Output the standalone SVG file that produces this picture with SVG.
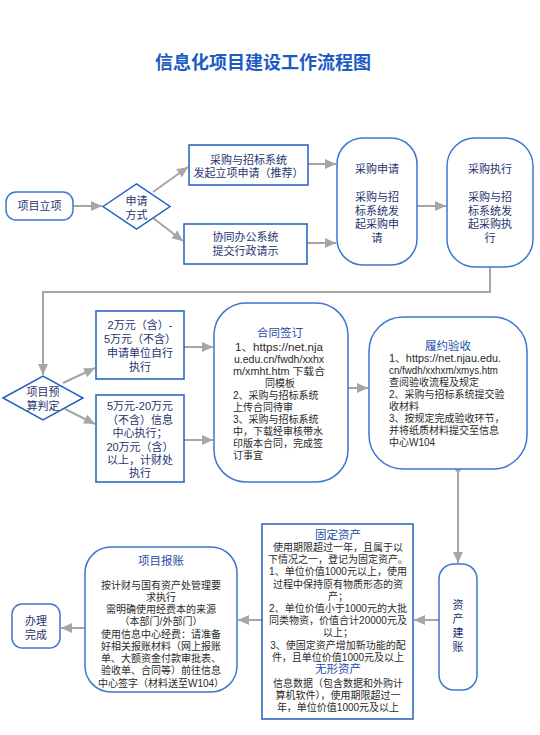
<svg xmlns="http://www.w3.org/2000/svg" width="540" height="735" viewBox="0 0 540 735">
<defs>
<marker id="ah" markerUnits="userSpaceOnUse" markerWidth="12" markerHeight="10" refX="11" refY="5" orient="auto">
<path d="M0,0 L11,5 L0,10 Z" fill="#a6a6a6"/>
</marker>
<style>
.bg{fill:#ffffff}
.rr{fill:#ffffff;stroke:#3d77cf;stroke-width:1.5}
.rc{fill:#ffffff;stroke:#2260bf;stroke-width:1.5}
.t{font-family:"Liberation Sans","Noto Sans CJK SC",sans-serif;font-size:11px;fill:#1f3470;text-anchor:middle;dominant-baseline:central}
.h{font-family:"Liberation Sans","Noto Sans CJK SC",sans-serif;font-size:11.5px;fill:#1f4ea8;text-anchor:middle;dominant-baseline:central}
.b{font-family:"Liberation Sans","Noto Sans CJK SC",sans-serif;font-size:10px;fill:#2a2a2a;text-anchor:middle;dominant-baseline:central}
.bl{text-anchor:start}
.title{font-family:"Noto Sans CJK SC","Liberation Sans",sans-serif;font-size:18px;font-weight:bold;fill:#1d5bc4;text-anchor:middle;dominant-baseline:central}
.c{fill:none;stroke:#a6a6a6;stroke-width:2}
</style>
</defs>
<rect class="bg" x="0" y="0" width="540" height="735"/>
<text class="title" x="263" y="61">信息化项目建设工作流程图</text>

<g id="connectors">
<path class="c" d="M73,206 H102" marker-end="url(#ah)"/>
<path class="c" d="M153,192 L188,167" marker-end="url(#ah)"/>
<path class="c" d="M153,218 L183,241" marker-end="url(#ah)"/>
<path class="c" d="M308,164 H336" marker-end="url(#ah)"/>
<path class="c" d="M307,243 H336" marker-end="url(#ah)"/>
<path class="c" d="M417,206 H446" marker-end="url(#ah)"/>
<path class="c" d="M490,267 V292 H43 V375" marker-end="url(#ah)"/>
<path class="c" d="M63,383 L95,368" marker-end="url(#ah)"/>
<path class="c" d="M65,409 L95,424" marker-end="url(#ah)"/>
<path class="c" d="M184,347 H213" marker-end="url(#ah)"/>
<path class="c" d="M184,440 H213" marker-end="url(#ah)"/>
<path class="c" d="M348,388 H368" marker-end="url(#ah)"/>
<circle cx="458" cy="469" r="3" fill="#a6a6a6"/>
<path class="c" d="M458,469 V563" marker-end="url(#ah)"/>
<path class="c" d="M439,620 H414" marker-end="url(#ah)"/>
<path class="c" d="M262,620 H238" marker-end="url(#ah)"/>
<path class="c" d="M85,628 H61" marker-end="url(#ah)"/>
</g>

<g id="n-lixiang">
<rect class="rr" x="6" y="192" width="67" height="28" rx="10"/>
<text class="t" x="39.5" y="206">项目立项</text>
</g>

<g id="n-fangshi">
<polygon class="rc" points="103,206.5 136.5,184 170,206.5 136.5,229"/>
<text class="t" x="136.5" y="201">申请</text>
<text class="t" x="136.5" y="214.5">方式</text>
</g>

<g id="n-tuijian">
<rect class="rc" x="189" y="145" width="119" height="40"/>
<text class="t" x="248.5" y="159.5">采购与招标系统</text>
<text class="t" x="248.5" y="173">发起立项申请（推荐）</text>
</g>

<g id="n-qingshi">
<rect class="rc" x="184" y="224" width="123" height="40"/>
<text class="t" x="245.5" y="237">协同办公系统</text>
<text class="t" x="245.5" y="250.5">提交行政请示</text>
</g>

<g id="n-shenqing">
<rect class="rr" x="337" y="138" width="80" height="127" rx="26"/>
<text class="t" x="377" y="169">采购申请</text>
<text class="t" x="377" y="197">采购与招</text>
<text class="t" x="377" y="210.5">标系统发</text>
<text class="t" x="377" y="224">起采购申</text>
<text class="t" x="377" y="237.5">请</text>
</g>

<g id="n-zhixing">
<rect class="rr" x="447" y="138" width="86" height="129" rx="28"/>
<text class="t" x="490" y="169">采购执行</text>
<text class="t" x="490" y="197">采购与招</text>
<text class="t" x="490" y="210.5">标系统发</text>
<text class="t" x="490" y="224">起采购执</text>
<text class="t" x="490" y="237.5">行</text>
</g>

<g id="n-yusuan">
<polygon class="rc" points="3,398 43,376 83,398 43,420"/>
<text class="t" x="43" y="392">项目预</text>
<text class="t" x="43" y="406">算判定</text>
</g>

<g id="n-small">
<rect class="rc" x="96" y="311" width="88" height="68"/>
<text class="t" x="140" y="325">2万元（含）-</text>
<text class="t" x="140" y="339">5万元（不含）</text>
<text class="t" x="140" y="353">申请单位自行</text>
<text class="t" x="140" y="367">执行</text>
</g>

<g id="n-large">
<rect class="rc" x="96" y="395" width="88" height="87"/>
<text class="t" x="140" y="406">5万元-20万元</text>
<text class="t" x="140" y="420">（不含）信息</text>
<text class="t" x="140" y="433">中心执行；</text>
<text class="t" x="140" y="446.5">20万元（含）</text>
<text class="t" x="140" y="460">以上，计财处</text>
<text class="t" x="140" y="473">执行</text>
</g>

<g id="n-hetong">
<rect class="rr" x="214" y="303" width="134" height="179" rx="32"/>
<text class="h" x="280" y="333">合同签订</text>
<text class="b" x="279" y="347" textLength="88" lengthAdjust="spacingAndGlyphs">1、https://net.nja</text>
<text class="b" x="279" y="359" textLength="90" lengthAdjust="spacingAndGlyphs">u.edu.cn/fwdh/xxhx</text>
<text class="b" x="279" y="371" textLength="92" lengthAdjust="spacingAndGlyphs">m/xmht.htm 下载合</text>
<text class="b" x="280" y="383">同模板</text>
<text class="b bl" x="233" y="395">2、采购与招标系统</text>
<text class="b bl" x="233" y="407">上传合同待审</text>
<text class="b bl" x="233" y="419">3、采购与招标系统</text>
<text class="b bl" x="233" y="431">中，下载经审核带水</text>
<text class="b bl" x="233" y="443">印版本合同，完成签</text>
<text class="b bl" x="233" y="455">订事宜</text>
</g>

<g id="n-yanshou">
<rect class="rr" x="369" y="317" width="158" height="152" rx="34"/>
<text class="h" x="448" y="346">履约验收</text>
<text class="b bl" x="389" y="358" textLength="112" lengthAdjust="spacingAndGlyphs">1、https://net.njau.edu.</text>
<text class="b bl" x="389" y="370" textLength="109" lengthAdjust="spacingAndGlyphs">cn/fwdh/xxhxm/xmys.htm</text>
<text class="b bl" x="389" y="382">查阅验收流程及规定</text>
<text class="b bl" x="389" y="394">2、采购与招标系统提交验</text>
<text class="b bl" x="389" y="406">收材料</text>
<text class="b bl" x="389" y="418">3、按规定完成验收环节，</text>
<text class="b bl" x="389" y="430">并将纸质材料提交至信息</text>
<text class="b bl" x="389" y="442">中心W104</text>
</g>

<g id="n-jianzhang">
<rect class="rr" x="439" y="564" width="38" height="126" rx="15"/>
<text class="t" x="458" y="605">资</text>
<text class="t" x="458" y="619">产</text>
<text class="t" x="458" y="633">建</text>
<text class="t" x="458" y="647">账</text>
</g>

<g id="n-zichan">
<rect class="rc" x="262" y="524" width="151" height="195"/>
<text class="h" x="338" y="535">固定资产</text>
<text class="b" x="338" y="547.5">使用期限超过一年，且属于以</text>
<text class="b" x="338" y="559.5">下情况之一，登记为固定资产。</text>
<text class="b" x="338" y="571.5">1、单位价值1000元以上，使用</text>
<text class="b" x="338" y="584">过程中保持原有物质形态的资</text>
<text class="b" x="338" y="596">产；</text>
<text class="b" x="338" y="608.5">2、单位价值小于1000元的大批</text>
<text class="b" x="338" y="620.5">同类物资，价值合计20000元及</text>
<text class="b" x="338" y="632.5">以上；</text>
<text class="b" x="338" y="645">3、使固定资产增加新功能的配</text>
<text class="b" x="338" y="657">件，且单位价值1000元及以上</text>
<text class="h" x="338" y="669">无形资产</text>
<text class="b" x="338" y="683">信息数据（包含数据和外购计</text>
<text class="b" x="338" y="695">算机软件），使用期限超过一</text>
<text class="b" x="338" y="707">年，单位价值1000元及以上</text>
</g>

<g id="n-baozhang">
<rect class="rr" x="85" y="547" width="152" height="145" rx="26"/>
<text class="h" x="161" y="561">项目报账</text>
<text class="b" x="161" y="585">按计财与国有资产处管理要</text>
<text class="b" x="161" y="597">求执行</text>
<text class="b" x="161" y="609.5">需明确使用经费本的来源</text>
<text class="b" x="161" y="621.5">（本部门/外部门）</text>
<text class="b" x="161" y="634">使用信息中心经费：请准备</text>
<text class="b" x="161" y="646">好相关报账材料（网上报账</text>
<text class="b" x="161" y="658.5">单、大额资金付款审批表、</text>
<text class="b" x="161" y="670.5">验收单、合同等）前往信息</text>
<text class="b" x="161" y="683">中心签字（材料送至W104）</text>
</g>

<g id="n-wancheng">
<rect class="rr" x="12" y="604" width="48" height="44" rx="10"/>
<text class="t" x="36" y="621">办理</text>
<text class="t" x="36" y="635">完成</text>
</g>
</svg>
